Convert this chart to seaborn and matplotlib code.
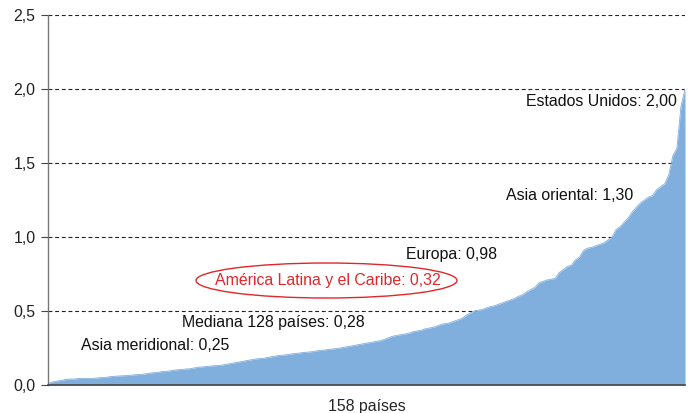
import matplotlib
matplotlib.use("Agg")
import matplotlib.pyplot as plt
from matplotlib.patches import Ellipse
import seaborn as sns
import pandas as pd

# Data (sorted country values, 158 countries)
values = [
    0.01, 0.02, 0.025, 0.03, 0.035, 0.04, 0.04, 0.042, 0.045, 0.045,
    0.045, 0.045, 0.047, 0.05, 0.05, 0.055, 0.058, 0.06, 0.062, 0.063,
    0.065, 0.068, 0.07, 0.072, 0.075, 0.08, 0.083, 0.085, 0.09, 0.092,
    0.095, 0.1, 0.103, 0.105, 0.108, 0.11, 0.115, 0.12, 0.122, 0.125,
    0.128, 0.13, 0.132, 0.135, 0.14, 0.145, 0.15, 0.155, 0.16, 0.165,
    0.17, 0.175, 0.178, 0.18, 0.185, 0.19, 0.195, 0.2, 0.202, 0.205,
    0.21, 0.213, 0.216, 0.22, 0.222, 0.225, 0.23, 0.233, 0.236, 0.24,
    0.243, 0.246, 0.25, 0.255, 0.26, 0.265, 0.27, 0.275, 0.28, 0.285,
    0.29, 0.295, 0.30, 0.31, 0.32, 0.33, 0.335, 0.34, 0.345, 0.35,
    0.36, 0.365, 0.37, 0.38, 0.385, 0.39, 0.40, 0.41, 0.415, 0.42,
    0.43, 0.44, 0.45, 0.47, 0.485, 0.50, 0.505, 0.51, 0.52, 0.53,
    0.535, 0.545, 0.555, 0.565, 0.575, 0.585, 0.60, 0.61, 0.63, 0.645,
    0.66, 0.69, 0.70, 0.71, 0.715, 0.72, 0.76, 0.78, 0.80, 0.81,
    0.845, 0.865, 0.91, 0.925, 0.93, 0.94, 0.95, 0.96, 0.98, 1.0,
    1.05, 1.07, 1.10, 1.13, 1.17, 1.20, 1.23, 1.25, 1.27, 1.28,
    1.32, 1.34, 1.36, 1.42, 1.55, 1.60, 1.88, 2.0,
]
country_rank = list(range(len(values)))

y_ticks = [0.0, 0.5, 1.0, 1.5, 2.0, 2.5]
y_tick_labels = ["0,0", "0,5", "1,0", "1,5", "2,0", "2,5"]

annotation_texts = ["Estados Unidos: 2,00", "Asia oriental: 1,30", "Europa: 0,98",
                    "Mediana 128 países: 0,28", "Asia meridional: 0,25"]
highlight_text = "América Latina y el Caribe: 0,32"
x_label = "158 países"

df = pd.DataFrame({"rank": country_rank, "value": values})

sns.set_style("white")
plt.rcParams["font.family"] = ["Liberation Sans", "DejaVu Sans"]

W, H = 690, 413
L, R, T, B = 48, 685, 15, 385
fig = plt.figure(figsize=(W / 100, H / 100), dpi=100)
ax = fig.add_axes([L / W, 1 - B / H, (R - L) / W, (B - T) / H])

def px2data(px, py):
    x = (px - L) / (R - L) * (len(values) - 1)
    y = (B - py) / (B - T) * 2.5
    return x, y

fill_color = "#80AFDE"
sns.lineplot(data=df, x="rank", y="value", ax=ax, color=fill_color, linewidth=0.6)
ax.fill_between(df["rank"], 0, df["value"], color=fill_color, linewidth=0, zorder=2)

ax.set_xlim(0, len(values) - 1)
ax.set_ylim(0, 2.5)
ax.set_yticks(y_ticks)
ax.set_yticklabels(y_tick_labels, fontsize=11.4, color="#222222")
ax.set_xticks([])
for y in y_ticks[1:]:
    ax.axhline(y, color="#222222", linestyle=(0, (3.5, 2.5)), linewidth=0.8, zorder=1)

ax.tick_params(axis="y", direction="out", length=5, width=0.8, color="#444444", pad=4, left=True)
for s in ["top", "right"]:
    ax.spines[s].set_visible(False)
ax.spines["left"].set_color("#777777")
ax.spines["left"].set_linewidth(1.0)
ax.spines["bottom"].set_color("#444444")
ax.spines["bottom"].set_linewidth(1.2)
ax.set_ylabel("")
ax.set_xlabel(x_label, fontsize=11.4, labelpad=10)

fs = 11.4
placements = [(677, 101, "right"), (506, 196, "left"), (406, 254, "left"),
              (182, 322, "left"), (81, 346, "left")]
for text, (px, py, ha) in zip(annotation_texts, placements):
    x, y = px2data(px, py)
    ax.text(x, y, text, ha=ha, va="center", fontsize=fs, color="#111111", zorder=5)

red = "#E3262B"
tx, ty = px2data(328, 280)
ax.text(tx, ty, highlight_text, ha="center", va="center", fontsize=fs, color=red, zorder=5)
ex, ey = px2data(326.5, 280.5)
ell = Ellipse((ex, ey), width=261 / (R - L) * (len(values) - 1), height=35 / (B - T) * 2.5,
              fill=False, edgecolor=red, linewidth=1.0, zorder=5)
ax.add_patch(ell)

fig.savefig("out.png", dpi=100)
